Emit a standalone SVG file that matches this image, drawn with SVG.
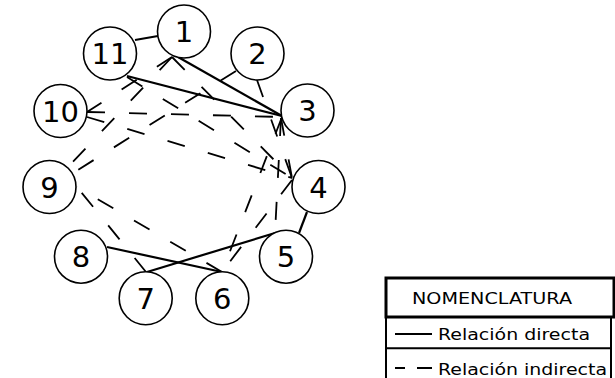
<svg xmlns="http://www.w3.org/2000/svg" width="615" height="378" viewBox="0 0 615 378">
<style>
.n circle{fill:#fff;stroke:#000;stroke-width:1.6}
.n text{font-family:"DejaVu Sans",Verdana,sans-serif;font-size:29px;text-anchor:middle;fill:#000}
.s{stroke:#000;stroke-width:2.2;fill:none}
.d{stroke:#000;stroke-width:1.8;fill:none;stroke-dasharray:18 24}
.lg{font-family:"DejaVu Sans",Verdana,sans-serif;font-size:16px;fill:#000}
</style>
<rect width="615" height="378" fill="#fff"/>
<g id="connectors">
<path class="d" d="M87,112 L282,117"/>
<path class="d" d="M87,117 L292,178"/>
<path class="d" d="M127,77 L292,178"/>
<path class="d" d="M172,57 L292,178"/>
<path class="d" d="M172,57 L68,167"/>
<path class="d" d="M172,57 L87,112"/>
<path class="d" d="M236,71 L73,173"/>
<path class="d" d="M257,80 L292,178"/>
<path class="d" d="M281,118 L292,178"/>
<path class="d" d="M281,118 L275,233"/>
<path class="d" d="M282,117 L222,272"/>
<path class="d" d="M292,180 L222,272"/>
<path class="d" d="M222,272 L77,187"/>
<path class="d" d="M146,272 L77,187"/>
<path class="s" d="M135,40 L158,36"/>
<path class="s" d="M178,57 L282,116"/>
<path class="s" d="M127,76 L282,116"/>
<path class="s" d="M307,212 L299,233"/>
<path class="s" d="M107,247 L222,272"/>
<path class="s" d="M275,233 L147,272"/>
</g>
<g id="node1" class="n"><circle cx="184" cy="31.5" r="26.5"/><text x="184" y="42">1</text></g>
<g id="node2" class="n"><circle cx="257.5" cy="53.5" r="26.5"/><text x="257.5" y="64">2</text></g>
<g id="node3" class="n"><circle cx="307.5" cy="110.5" r="26.5"/><text x="307.5" y="121">3</text></g>
<g id="node4" class="n"><circle cx="318.5" cy="187" r="26.5"/><text x="318.5" y="197.5">4</text></g>
<g id="node5" class="n"><circle cx="286" cy="256.7" r="26.5"/><text x="286" y="267">5</text></g>
<g id="node6" class="n"><circle cx="222.3" cy="298.3" r="26.5"/><text x="222.3" y="309">6</text></g>
<g id="node7" class="n"><circle cx="145.7" cy="298.3" r="26.5"/><text x="145.7" y="309">7</text></g>
<g id="node8" class="n"><circle cx="81" cy="256.7" r="26.5"/><text x="81" y="267">8</text></g>
<g id="node9" class="n"><circle cx="49.5" cy="187" r="26.5"/><text x="49.5" y="197.5">9</text></g>
<g id="node10" class="n"><circle cx="60.5" cy="111" r="26.5"/><text x="60.5" y="121.5">10</text></g>
<g id="node11" class="n"><circle cx="110" cy="53.5" r="26.5"/><text x="110" y="64">11</text></g>
<g id="legend">
<rect x="386" y="278" width="228" height="39" fill="none" stroke="#000" stroke-width="3"/>
<path d="M386,317 V378 M611,317 V378 M386,348.3 H611" stroke="#000" stroke-width="2" fill="none"/>
<text class="lg" x="412" y="303.5" font-size="17" textLength="160" lengthAdjust="spacingAndGlyphs">NOMENCLATURA</text>
<path d="M395,334 H432" stroke="#000" stroke-width="2"/>
<text class="lg" x="438" y="340" textLength="152" lengthAdjust="spacingAndGlyphs">Relación directa</text>
<path d="M395,368 H405 M417,368 H432" stroke="#000" stroke-width="2"/>
<text class="lg" x="438" y="375" textLength="169" lengthAdjust="spacingAndGlyphs">Relación indirecta</text>
</g>
</svg>
